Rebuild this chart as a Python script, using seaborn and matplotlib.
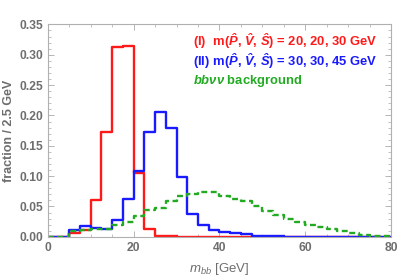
import numpy as np
import pandas as pd
import matplotlib
matplotlib.use("Agg")
import matplotlib.pyplot as plt
import seaborn as sns
from matplotlib.ticker import MultipleLocator

# bin edges of the m_bb histograms (2.5 GeV bins, 0-80 GeV)
edges = np.arange(0, 80.01, 2.5)
centers = edges[:-1] + 1.25

# fraction per 2.5 GeV bin
frac_I = [0, 0, 0.0055, 0.012, 0.060, 0.173, 0.312, 0.315, 0.105, 0.013,
          0.002, 0.001, 0, 0, 0, 0, 0, 0, 0, 0,
          0, 0, 0, 0, 0, 0, 0, 0, 0, 0, 0, 0]
frac_II = [0, 0, 0.011, 0.0175, 0.014, 0.013, 0.0275, 0.063, 0.109, 0.172,
           0.206, 0.180, 0.099, 0.038, 0.019, 0.011, 0.008, 0.0055, 0.004, 0.002,
           0.001, 0.001, 0, 0, 0, 0, 0, 0, 0, 0, 0, 0]
frac_bkg = [0, 0, 0.010, 0.0115, 0.013, 0.013, 0.019, 0.025, 0.034, 0.044,
            0.048, 0.059, 0.067, 0.070, 0.074, 0.074, 0.067, 0.062, 0.059, 0.051,
            0.042, 0.036, 0.029, 0.025, 0.020, 0.017, 0.013, 0.010, 0.0065, 0.0035,
            0.002, 0.0015]

hat = r"$\mathbf{\hat{%s}}$"
labels = ["(I)  m(" + ", ".join(hat % c for c in "PVS") + ") = 20, 20, 30 GeV",
          "(II) m(" + ", ".join(hat % c for c in "PVS") + ") = 30, 30, 45 GeV",
          r"$\mathbf{bb\nu\nu}$ background"]
colors = ["#ff1a1a", "#1a1aff", "#22aa22"]
styles = ["-", "-", (0, (2.5, 1.5))]

sns.set_style("ticks")
plt.rcParams["font.family"] = ["Liberation Sans", "DejaVu Sans"]
plt.rcParams["mathtext.fontset"] = "custom"
plt.rcParams["mathtext.it"] = "Liberation Sans:italic"
plt.rcParams["mathtext.rm"] = "Liberation Sans"
plt.rcParams["mathtext.bf"] = "Liberation Sans:bold:italic"

gray = "#6e6e6e"
fig, ax = plt.subplots(figsize=(3.99, 2.77), dpi=100)
fig.subplots_adjust(left=0.120, right=0.980, bottom=0.145, top=0.912)

for vals, col, ls in zip([frac_I, frac_II, frac_bkg], colors, styles):
    df = pd.DataFrame({"mbb": centers, "frac": vals})
    sns.histplot(data=df, x="mbb", weights="frac", bins=list(edges), element="step",
                 fill=False, color=col, linestyle=ls, linewidth=1.7, ax=ax)

ax.set_xlim(0, 80)
ax.set_ylim(0, 0.35)
ax.xaxis.set_major_locator(MultipleLocator(20))
ax.xaxis.set_minor_locator(MultipleLocator(5))
ax.yaxis.set_major_locator(MultipleLocator(0.05))
ax.yaxis.set_minor_locator(MultipleLocator(0.01))
ax.yaxis.set_major_formatter(matplotlib.ticker.FormatStrFormatter("%.2f"))
ax.tick_params(which="both", direction="in", top=True, right=True, color="#aaaaaa",
               labelcolor=gray, labelsize=8.7)
ax.tick_params(which="major", length=4, width=0.6)
ax.tick_params(which="minor", length=2, width=0.5)
for lab in ax.get_xticklabels() + ax.get_yticklabels():
    lab.set_fontweight("bold")
for sp in ax.spines.values():
    sp.set_color("#b0b0b0")
    sp.set_linewidth(0.8)

ax.set_xlabel(r"$m_{bb}$ [GeV]", color=gray, fontsize=9.5, labelpad=5)
ax.set_ylabel("fraction / 2.5 GeV", color=gray, fontsize=9, fontweight="bold", labelpad=3)

for i, (txt, col) in enumerate(zip(labels, colors)):
    ax.text(0.422, 0.922 - i * 0.095, txt, transform=ax.transAxes, color=col,
            fontsize=9.4, fontweight="bold", va="center", ha="left")

fig.savefig("out.png", dpi=100)
